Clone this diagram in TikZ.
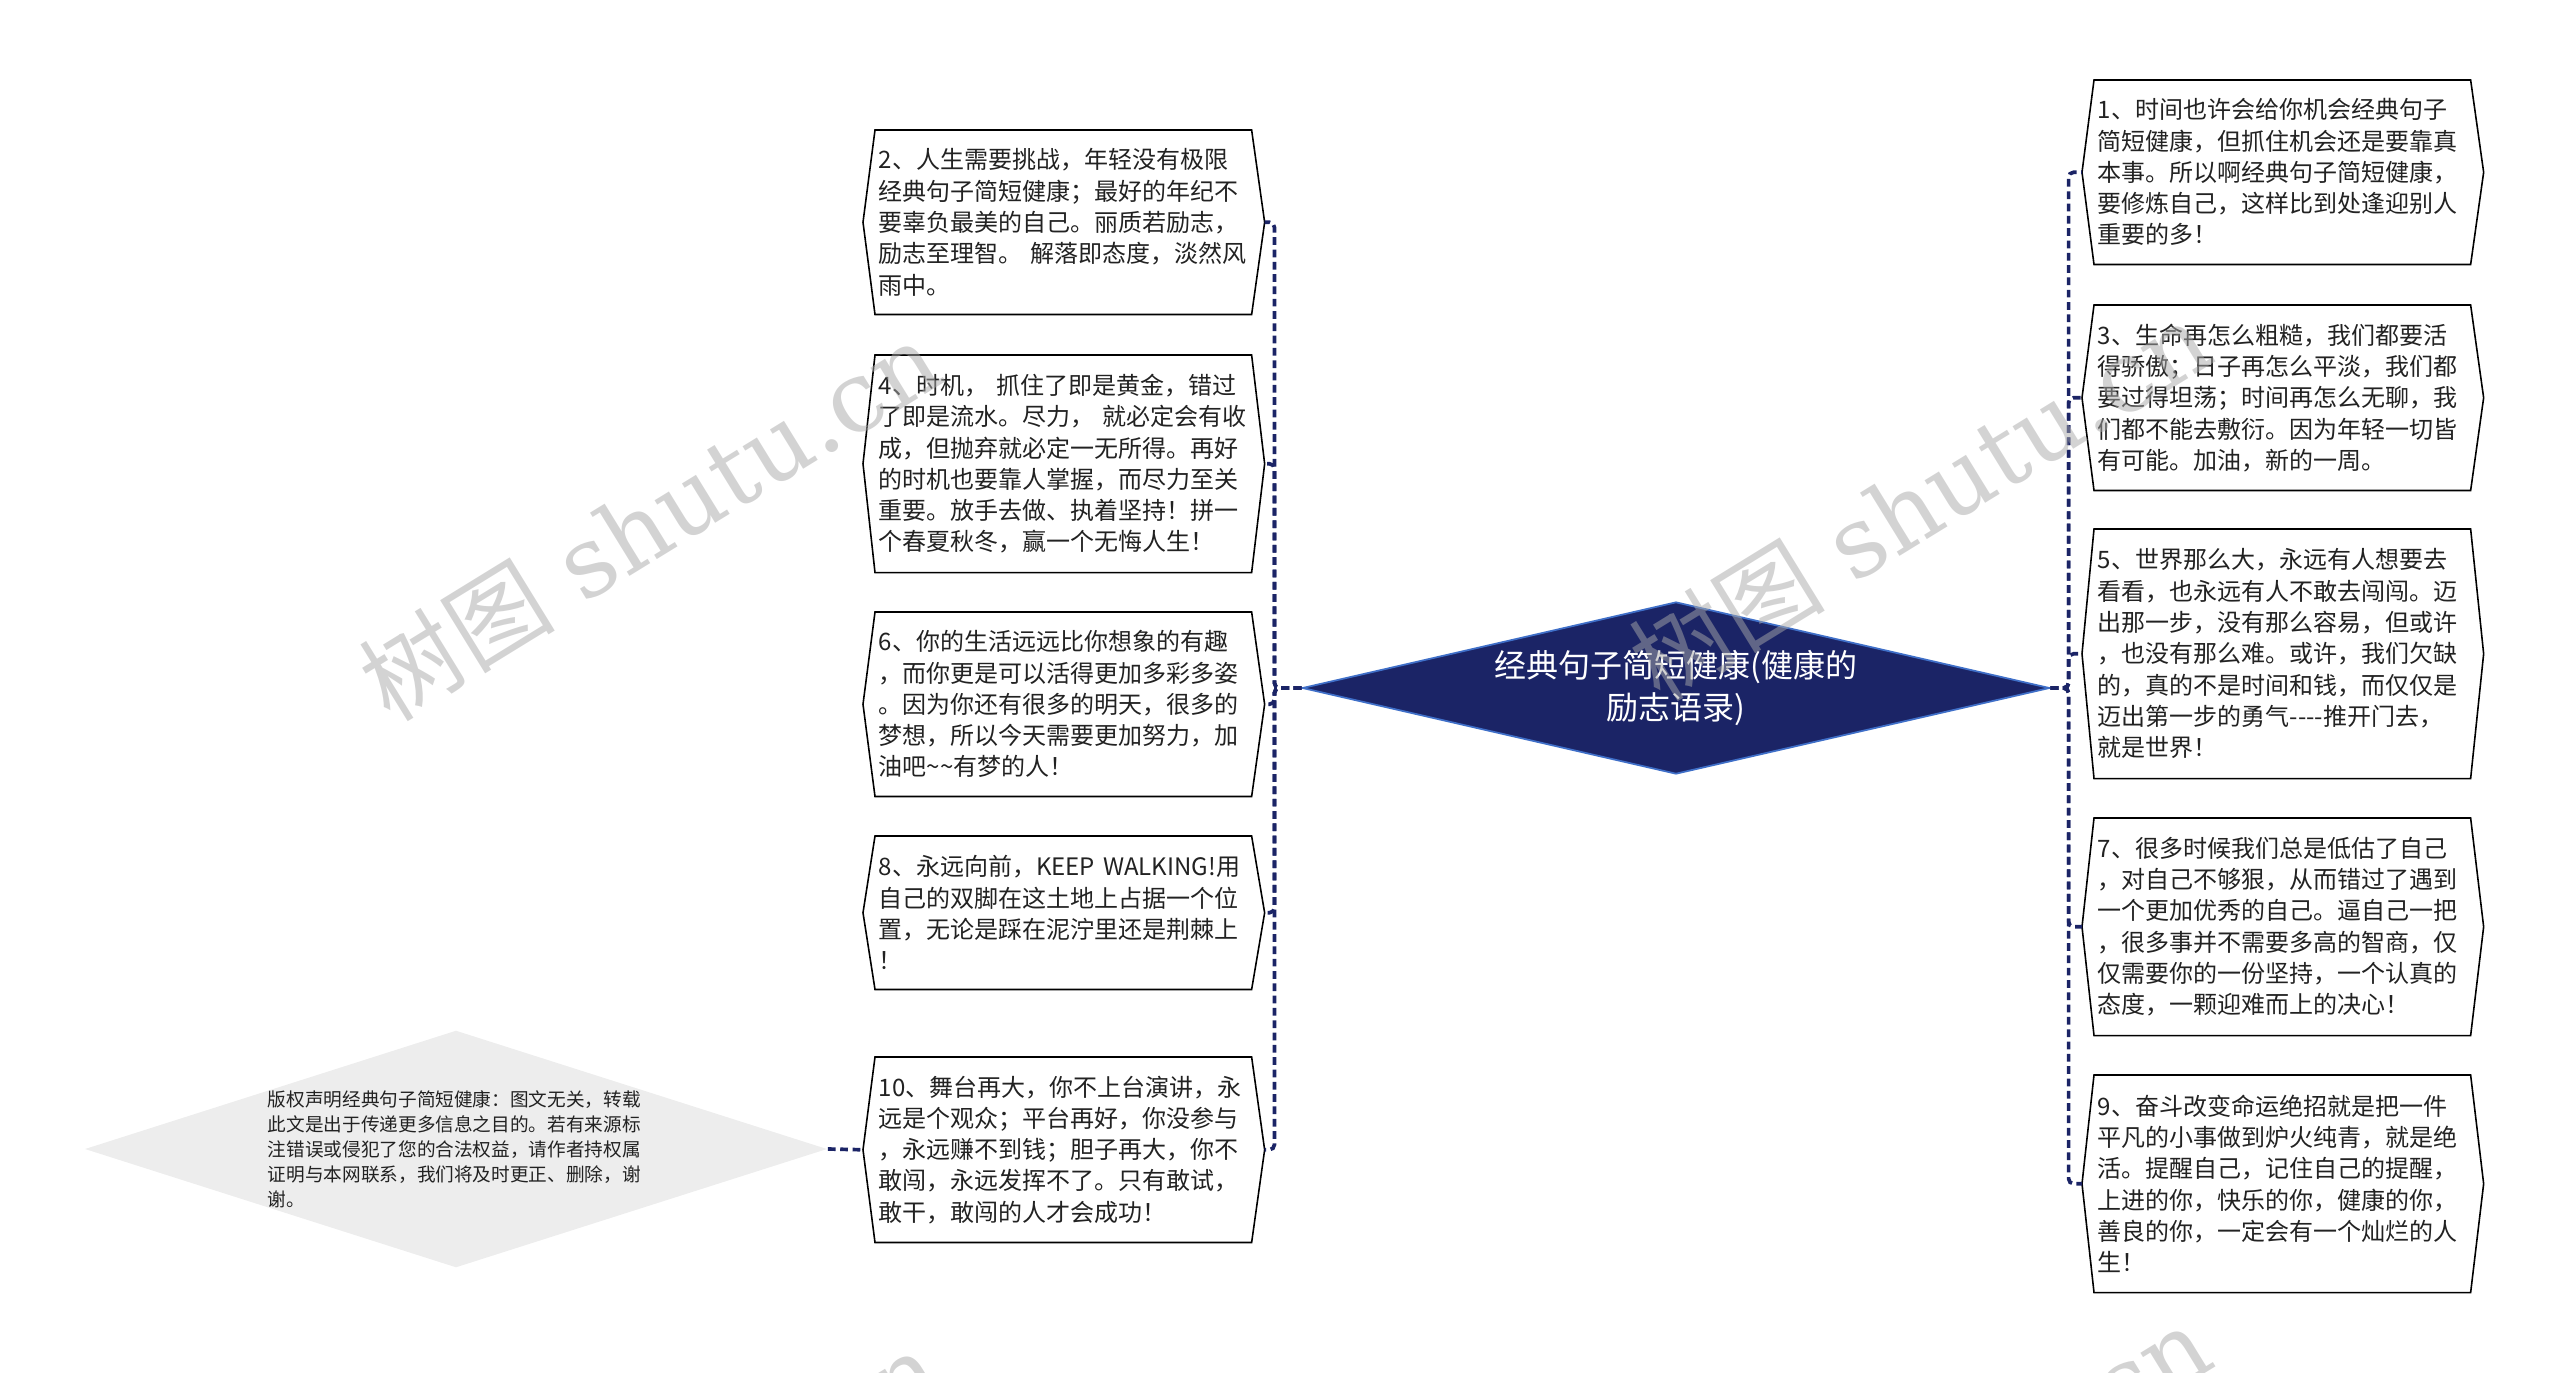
\documentclass[tikz,border=0pt]{standalone}
\usepackage{fontspec}
\usetikzlibrary{shapes.geometric}
\newfontfamily\cjk{Noto Sans CJK SC}
\newfontfamily\wmserif{DejaVu Serif}
\definecolor{navy}{HTML}{1B2466}
\definecolor{rootedge}{HTML}{3F6FC8}
\definecolor{notegray}{HTML}{EDEDED}
\definecolor{inkgray}{HTML}{222222}
\definecolor{wmgray}{HTML}{A8A8A8}
\tikzset{leaf/.style={anchor=north west, inner xsep=0.03cm, inner ysep=0pt, text width=3.69cm, align=left, text=inkgray, font=\cjk\fontsize{6.83pt}{8.9pt}\selectfont},
  root/.style={diamond, fill=navy, draw=rootedge, line width=0.5pt, inner sep=0pt, minimum width=7.47cm, minimum height=1.72cm, aspect=4.34, text=white, align=center, font=\cjk\fontsize{9.1pt}{12.2pt}\selectfont},
  note/.style={diamond, fill=notegray, inner sep=0pt, minimum width=7.42cm, minimum height=2.37cm, aspect=3.13},
  notetext/.style={text width=3.76cm, inner sep=0pt, align=left, text=inkgray, font=\cjk\fontsize{5.3pt}{7.1pt}\selectfont},
  link/.style={navy, line width=1.05pt, dash pattern=on 2.2pt off 1.3pt, rounded corners=0.05cm},
  boxline/.style={draw=black, line width=0.45pt},
  stamp/.style={rotate=31.6, text=wmgray, opacity=0.5, inner sep=0pt, font=\fontsize{27.9pt}{30pt}\selectfont}}
\newcommand{\hexout}[1]{\draw[boxline] (#1.north west) -- ([xshift=-0.12cm]#1.west) -- (#1.south west) -- (#1.south east) -- ([xshift=0.13cm]#1.east) -- (#1.north east) -- cycle;}

\begin{document}
\begin{tikzpicture}[x=0.01cm,y=-0.01cm]
   \useasboundingbox (0,0) rectangle (2560,1372);
   \node[note] (cpr) at (456,1149) {};
   \node[notetext] (cprtext) at (cpr.center) {版权声明经典句子简短健康：图文无关，转载\\此文是出于传递更多信息之目的。若有来源标\\注错误或侵犯了您的合法权益，请作者持权属\\证明与本网联系，我们将及时更正、删除，谢\\谢。};
   \node[root] (root) at (1676,688) {经典句子简短健康(健康的\\励志语录)};

   \node[leaf, minimum height=1.83cm] (b2) at (875,130) {2、人生需要挑战，年轻没有极限\\经典句子简短健康；最好的年纪不\\要辜负最美的自己。丽质若励志，\\励志至理智。~解落即态度，淡然风\\雨中。};
   \node[leaf, minimum height=2.16cm] (b4) at (875,355) {4、时机，~抓住了即是黄金，错过\\了即是流水。尽力，~就必定会有收\\成，但抛弃就必定一无所得。再好\\的时机也要靠人掌握，而尽力至关\\重要。放手去做、执着坚持！拼一\\个春夏秋冬，赢一个无悔人生！};
   \node[leaf, minimum height=1.83cm] (b6) at (875,612) {6、你的生活远远比你想象的有趣\\，而你更是可以活得更加多彩多姿\\。因为你还有很多的明天，很多的\\梦想，所以今天需要更加努力，加\\油吧\textasciitilde\textasciitilde 有梦的人！};
   \node[leaf, minimum height=1.52cm] (b8) at (875,836) {8、永远向前，KEEP~WALKING!用\\自己的双脚在这土地上占据一个位\\置，无论是踩在泥泞里还是荆棘上\\！};
   \node[leaf, minimum height=1.84cm] (b10) at (875,1057) {10、舞台再大，你不上台演讲，永\\远是个观众；平台再好，你没参与\\，永远赚不到钱；胆子再大，你不\\敢闯，永远发挥不了。只有敢试，\\敢干，敢闯的人才会成功！};

   \node[leaf, minimum height=1.83cm] (b1) at (2094,80) {1、时间也许会给你机会经典句子\\简短健康，但抓住机会还是要靠真\\本事。所以啊经典句子简短健康，\\要修炼自己，这样比到处逢迎别人\\重要的多！};
   \node[leaf, minimum height=1.84cm] (b3) at (2094,305) {3、生命再怎么粗糙，我们都要活\\得骄傲；日子再怎么平淡，我们都\\要过得坦荡；时间再怎么无聊，我\\们都不能去敷衍。因为年轻一切皆\\有可能。加油，新的一周。};
   \node[leaf, minimum height=2.48cm] (b5) at (2094,529) {5、世界那么大，永远有人想要去\\看看，也永远有人不敢去闯闯。迈\\出那一步，没有那么容易，但或许\\，也没有那么难。或许，我们欠缺\\的，真的不是时间和钱，而仅仅是\\迈出第一步的勇气-{}-{}-{}-推开门去，\\就是世界！};
   \node[leaf, minimum height=2.16cm] (b7) at (2094,818) {7、很多时候我们总是低估了自己\\，对自己不够狠，从而错过了遇到\\一个更加优秀的自己。逼自己一把\\，很多事并不需要多高的智商，仅\\仅需要你的一份坚持，一个认真的\\态度，一颗迎难而上的决心！};
   \node[leaf, minimum height=2.16cm] (b9) at (2094,1075) {9、奋斗改变命运绝招就是把一件\\平凡的小事做到炉火纯青，就是绝\\活。提醒自己，记住自己的提醒，\\上进的你，快乐的你，健康的你，\\善良的你，一定会有一个灿烂的人\\生！};

   \hexout{b2} \hexout{b4} \hexout{b6} \hexout{b8} \hexout{b10}
   \hexout{b1} \hexout{b3} \hexout{b5} \hexout{b7} \hexout{b9}

   \coordinate (b2p) at ([xshift=0.13cm]b2.east);
   \coordinate (b4p) at ([xshift=0.13cm]b4.east);
   \coordinate (b6p) at ([xshift=0.13cm]b6.east);
   \coordinate (b8p) at ([xshift=0.13cm]b8.east);
   \coordinate (b10p) at ([xshift=0.13cm]b10.east);
   \coordinate (b10q) at ([xshift=-0.12cm]b10.west);
   \coordinate (b1q) at ([xshift=-0.12cm]b1.west);
   \coordinate (b3q) at ([xshift=-0.12cm]b3.west);
   \coordinate (b5q) at ([xshift=-0.12cm]b5.west);
   \coordinate (b7q) at ([xshift=-0.12cm]b7.west);
   \coordinate (b9q) at ([xshift=-0.12cm]b9.west);

   \draw[link] (root.west) -- ++(-27,0) |- (b2p);
   \draw[link] (root.west) -- ++(-27,0) |- (b4p);
   \draw[link] (root.west) -- ++(-27,0) |- (b6p);
   \draw[link] (root.west) -- ++(-27,0) |- (b8p);
   \draw[link] (root.west) -- ++(-27,0) |- (b10p);
   \draw[link] (root.east) -- ++(18,0) |- (b1q);
   \draw[link] (root.east) -- ++(18,0) |- (b3q);
   \draw[link] (root.east) -- ++(18,0) |- (b5q);
   \draw[link] (root.east) -- ++(18,0) |- (b7q);
   \draw[link] (root.east) -- ++(18,0) |- (b9q);
   \draw[link] (cpr.east) -- (b10q);

   \node[stamp] (wm1) at (650,520) {{\cjk 树图} {\wmserif shutu.cn}};
   \node[stamp] (wm2) at (1920,500) {{\cjk 树图} {\wmserif shutu.cn}};
   \node[stamp] (wm3) at (650,1530) {{\cjk 树图} {\wmserif shutu.cn}};
   \node[stamp] (wm4) at (1920,1505) {{\cjk 树图} {\wmserif shutu.cn}};
\end{tikzpicture}
\end{document}
